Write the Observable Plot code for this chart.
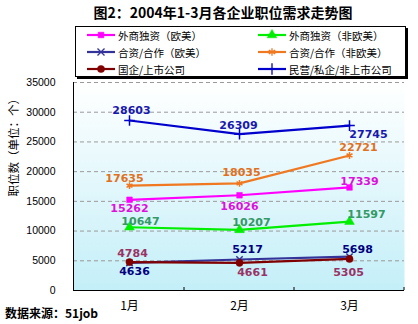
<!DOCTYPE html>
<html><head><meta charset="utf-8">
<script src="https://cdn.jsdelivr.net/npm/d3@7"></script>
<script src="https://cdn.jsdelivr.net/npm/@observablehq/plot@0.6"></script>
<style>
body{margin:0;background:#fff;font-family:"Noto Sans CJK SC",sans-serif;}
#wrap{position:relative;width:418px;height:324px;overflow:hidden;}
#title{position:absolute;left:0;top:3px;width:446px;text-align:center;font-weight:700;font-size:14px;line-height:18px;color:#000;}
#legend{position:absolute;left:75px;top:26px;width:331px;height:51px;box-sizing:border-box;border:1px solid #000;box-shadow:2px 2px 0 #000;background:#fff;}
.li{position:absolute;display:flex;align-items:center;font-size:10.5px;height:14px;color:#000;}
#chart{position:absolute;left:0;top:78px;}
#caption{position:absolute;left:5px;top:305px;font-weight:700;font-size:12px;line-height:16px;}
</style></head>
<body><div id="wrap">
<div id="title">图2：2004年1-3月各企业职位需求走势图</div>
<div id="legend"></div>
<div id="chart"></div>
<div id="caption">数据来源：51job</div>
</div>
<script>
const months = ["1月","2月","3月"];
const seriesNames = ["外商独资（欧美）","外商独资（非欧美）","合资/合作（欧美）","合资/合作（非欧美）","国企/上市公司","民营/私企/非上市公司"];
const s1 = [15262,16026,17339];
const s2 = [10647,10207,11597];
const s3 = [4636,5217,5698];
const s4 = [17635,18035,22721];
const s5 = [4784,4661,5305];
const s6 = [28603,26309,27745];
const yTicks = [0,5000,10000,15000,20000,25000,30000,35000];
const yTitle = "职位数（单位：个）";

// styles
const lineColors = ["#ff00ff","#00ee00","#333399","#f07820","#800000","#0000cc"];
const labelColors = ["#dd11dd","#339966","#000080","#e07020","#993366","#1818b0"];
const symbols = ["square","triangle","times","asterisk","circle","plus"];
const filled = [true,true,false,false,true,false];
const symR = [3.2,3.6,3,3.2,3.6,3.5];
// label offsets [dx,dy] per series per month
const labelOff = [
  [[0,9],[0,11],[10,-6]],
  [[11,-6],[12,-7],[17,-7]],
  [[5,9],[8,-10],[8,-7]],
  [[-5,-7],[2,-11],[9,-8]],
  [[3,-9],[13,10],[-1,13]],
  [[2,-10],[-1,-9],[19,9]]
];
const allSeries = [s1,s2,s3,s4,s5,s6];

const rows = [];
allSeries.forEach((vals,si)=>vals.forEach((v,mi)=>rows.push({series:seriesNames[si],si,month:months[mi],mi,value:v})));

const W=418,H=246,mL=73,mR=14,mT=4,mB=34;
const tickLen=3;

// category boundary ticks on the x axis (between bands), drawn from the x scale
function boundaryTicks(index, scales, values, dims){
  const step = months.length>1 ? scales.x(months[1])-scales.x(months[0]) : (dims.width-dims.marginLeft-dims.marginRight);
  const y0 = dims.height-dims.marginBottom;
  const g = d3.create("svg:g");
  months.forEach(m=>{
    const x = scales.x(m)+step/2;
    g.append("line").attr("x1",x).attr("x2",x).attr("y1",y0).attr("y2",y0-tickLen).attr("stroke","#000");
  });
  return g.node();
}

const marks=[
  Plot.frame({fill:"url(#bg)",stroke:null}),
  Plot.gridY(yTicks.filter(t=>t>0),{stroke:"#9a9a9a",strokeOpacity:1,strokeDasharray:"4,3"}),
  Plot.frame({anchor:"left",stroke:"#000"}),
  Plot.ruleY([0],{stroke:"#000"}),
  boundaryTicks,
  Plot.axisY(yTicks,{tickSize:0,tickPadding:18,tickFormat:d3.format("d"),fontSize:10.5,fontFamily:"Liberation Sans, Arial",fill:"#000"}),
  Plot.axisX({tickSize:0,tickPadding:11,fontSize:12,fontFamily:"Noto Sans CJK SC",fill:"#000"}),
  Plot.text([yTitle],{frameAnchor:"left",rotate:-90,dx:-59,dy:10,fontSize:11.5,fontFamily:"Noto Sans CJK SC",fill:"#000"})
];
allSeries.forEach((vals,si)=>{
  const d=rows.filter(r=>r.si===si);
  marks.push(Plot.line(d,{x:"month",y:"value",stroke:lineColors[si],strokeWidth:2.2}));
});
allSeries.forEach((vals,si)=>{
  const d=rows.filter(r=>r.si===si);
  marks.push(Plot.dot(d,{x:"month",y:"value",symbol:()=>symbols[si],r:symR[si],
    fill:filled[si]?lineColors[si]:"none",stroke:lineColors[si],strokeWidth:filled[si]?0.5:1.5}));
});
allSeries.forEach((vals,si)=>{
  months.forEach((m,mi)=>{
    const d=rows.filter(r=>r.si===si&&r.mi===mi);
    marks.push(Plot.text(d,{x:"month",y:"value",text:r=>String(r.value),dx:labelOff[si][mi][0],dy:labelOff[si][mi][1],
      fill:labelColors[si],fontWeight:"bold",fontSize:11,fontFamily:"DejaVu Sans"}));
  });
});

const chart=Plot.plot({
  width:W,height:H,marginLeft:mL,marginRight:mR,marginTop:mT,marginBottom:mB,
  x:{type:"point",domain:months,padding:0.5,label:null},
  y:{domain:[0,35000],label:null},
  symbol:{type:"identity"},
  style:{background:"transparent",overflow:"visible"},
  marks
});
const defs=d3.select(chart).insert("defs",":first-child");
const g=defs.append("linearGradient").attr("id","bg").attr("x1",0).attr("y1",0).attr("x2",0).attr("y2",1);
g.append("stop").attr("offset","0%").attr("stop-color","#ffffff");
g.append("stop").attr("offset","100%").attr("stop-color","#c4eff8");
document.getElementById("chart").appendChild(chart);

// legend
const leg=d3.select("#legend");
const symMap={square:d3.symbolSquare,triangle:d3.symbolTriangle,times:d3.symbolTimes,asterisk:d3.symbolAsterisk,circle:d3.symbolCircle,plus:d3.symbolPlus};
seriesNames.forEach((name,i)=>{
  const col=i%2,row=Math.floor(i/2);
  const item=leg.append("div").attr("class","li").style("left",(col?181:10)+"px").style("top",(1+row*17)+"px");
  const s=item.append("svg").attr("width",30).attr("height",14);
  s.append("line").attr("x1",1).attr("x2",29).attr("y1",7).attr("y2",7).attr("stroke",lineColors[i]).attr("stroke-width",2.2);
  s.append("path").attr("transform","translate(15,7)")
    .attr("d",d3.symbol(symMap[symbols[i]],Math.PI*symR[i]*symR[i]*(filled[i]?1:1.2))())
    .attr("fill",filled[i]?lineColors[i]:"none").attr("stroke",lineColors[i]).attr("stroke-width",filled[i]?0.5:1.3);
  item.append("span").text(name).style("margin-left","2px");
});
</script>
</body></html>
